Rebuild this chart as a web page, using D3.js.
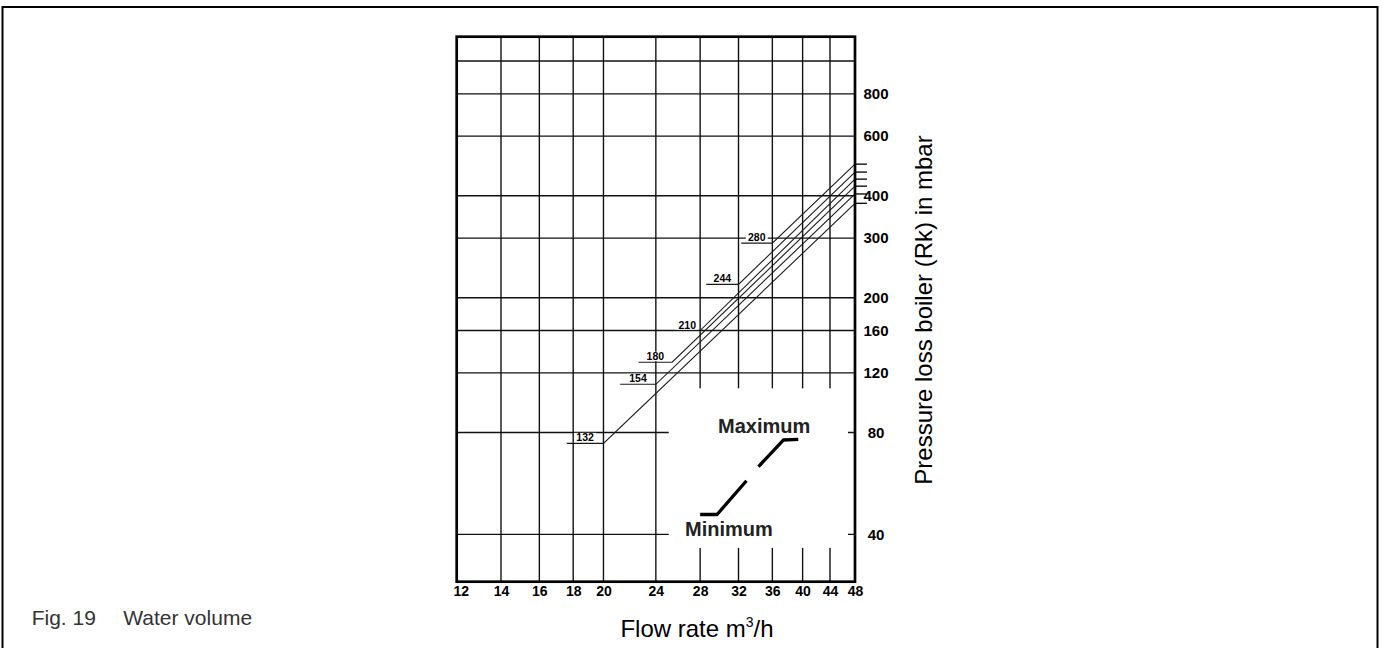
<!DOCTYPE html>
<html>
<head>
<meta charset="utf-8">
<script src="https://cdn.jsdelivr.net/npm/d3@7"></script>
<style>
body { margin: 0; background: #fff; }
text { font-family: "Liberation Sans", Arial, sans-serif; }
</style>
</head>
<body>
<div id="chart-area"></div>
<script>
let width = 1385, height = 648;

// ticks and grid
let flowTicks = [12, 14, 16, 18, 20, 24, 28, 32, 36, 40, 44, 48];
let pressureTicks = [40, 80, 120, 160, 200, 300, 400, 600, 800];
let pressureGrid = [40, 80, 120, 160, 200, 300, 400, 600, 800, 1000];

// boiler curves (label start, knee, end at 48 m3/h)
let boilerSizes = [132, 154, 180, 210, 244, 280];
let labelFlow = [17.6, 21.2, 22.6, 25.6, 28.6, 32.3];
let kneeFlow = [20, 24, 25.4, 28, 32, 36];
let kneePressure = [74.3, 111, 129, 160, 219, 290];
let endPressure = [380, 405, 427, 448, 470, 496];

// legend glyph
let minFlow = [28, 29.7, 32.9], minPressure = [45.8, 45.8, 57.6];
let maxFlow = [34.3, 37.4, 39.4], maxPressure = [63.4, 76, 76.3];

let plot = {left: 456.7, right: 855, top: 36.7, bottom: 581.7};

let x = d3.scaleLog().domain([12, 48]).range([plot.left, plot.right]);
let y = d3.scaleLog().domain([29, 1180]).range([plot.bottom, plot.top]);

let svg = d3.select("#chart-area").append("svg")
	.attr("width", width)
	.attr("height", height);

// page frame
svg.append("rect")
	.attr("x", 2.5).attr("y", 7)
	.attr("width", 1375).attr("height", 660)
	.attr("fill", "none").attr("stroke", "#000").attr("stroke-width", 2);

// grid
svg.selectAll(".vgrid")
	.data(flowTicks.slice(1, -1))
	.enter()
	.append("line")
	.attr("x1", d => x(d)).attr("x2", d => x(d))
	.attr("y1", plot.top).attr("y2", plot.bottom)
	.attr("stroke", "#111").attr("stroke-width", 1.4);

svg.selectAll(".hgrid")
	.data(pressureGrid)
	.enter()
	.append("line")
	.attr("x1", plot.left).attr("x2", plot.right)
	.attr("y1", d => y(d)).attr("y2", d => y(d))
	.attr("stroke", "#111").attr("stroke-width", 1.4);

// blank area for the legend
svg.append("rect")
	.attr("x", x(25.1))
	.attr("y", y(108))
	.attr("width", x(48) - 7 - x(25.1))
	.attr("height", y(36.5) - y(108))
	.attr("fill", "#fff");

let curves = boilerSizes.map((s, i) => ({
	size: s,
	pts: [[labelFlow[i], kneePressure[i]], [kneeFlow[i], kneePressure[i]], [48, endPressure[i]]]
}));

// white boxes behind the curve labels
svg.selectAll(".lblbg")
	.data(curves)
	.enter()
	.append("rect")
	.attr("x", d => (x(d.pts[0][0]) + x(d.pts[1][0])) / 2 - 11)
	.attr("y", d => y(d.pts[0][1]) - 10.5)
	.attr("width", 22)
	.attr("height", 9.5)
	.attr("fill", "#fff");

let line = d3.line()
	.x(d => x(d[0]))
	.y(d => y(d[1]));

svg.selectAll(".curve")
	.data(curves)
	.enter()
	.append("path")
	.attr("d", d => line(d.pts))
	.attr("fill", "none")
	.attr("stroke", "#1a1a1a")
	.attr("stroke-width", 1.1);

// end ticks right of the frame
svg.selectAll(".endtick")
	.data(curves)
	.enter()
	.append("line")
	.attr("x1", x(48)).attr("x2", x(48) + 12)
	.attr("y1", d => y(d.pts[2][1])).attr("y2", d => y(d.pts[2][1]))
	.attr("stroke", "#111").attr("stroke-width", 1.4);

svg.selectAll(".lbl")
	.data(curves)
	.enter()
	.append("text")
	.attr("x", d => (x(d.pts[0][0]) + x(d.pts[1][0])) / 2)
	.attr("y", d => y(d.pts[0][1]) - 2)
	.attr("text-anchor", "middle")
	.attr("font-size", 10.5)
	.attr("font-weight", "bold")
	.text(d => d.size);

// plot frame
svg.append("rect")
	.attr("x", plot.left).attr("y", plot.top)
	.attr("width", plot.right - plot.left)
	.attr("height", plot.bottom - plot.top)
	.attr("fill", "none").attr("stroke", "#000").attr("stroke-width", 2.7);

// legend glyph
let glyph = [
	minFlow.map((f, i) => [f, minPressure[i]]),
	maxFlow.map((f, i) => [f, maxPressure[i]])
];
svg.selectAll(".glyph")
	.data(glyph)
	.enter()
	.append("path")
	.attr("d", d => line(d))
	.attr("fill", "none")
	.attr("stroke", "#000")
	.attr("stroke-width", 3.3)
	.attr("stroke-linejoin", "round");

svg.append("text")
	.attr("x", 718).attr("y", 433)
	.attr("font-size", 20).attr("font-weight", "bold")
	.attr("fill", "#222")
	.text("Maximum");
svg.append("text")
	.attr("x", 685).attr("y", 536)
	.attr("font-size", 20).attr("font-weight", "bold")
	.attr("fill", "#222")
	.text("Minimum");

// axes
let xAxis = d3.axisBottom(x)
	.tickValues(flowTicks)
	.tickFormat(d3.format("d"))
	.tickSize(0)
	.tickPadding(4);
svg.append("g")
	.attr("transform", "translate(0," + plot.bottom + ")")
	.call(xAxis)
	.attr("font-size", 14)
	.attr("font-weight", "bold")
	.attr("font-family", "'Liberation Sans', Arial, sans-serif")
	.call(g => g.select(".domain").remove())
	.call(g => g.select(".tick text").attr("dx", 4));

let yAxis = d3.axisRight(y)
	.tickValues(pressureTicks)
	.tickFormat(d3.format("d"))
	.tickSize(0)
	.tickPadding(21);
svg.append("g")
	.attr("transform", "translate(" + plot.right + ",0)")
	.call(yAxis)
	.attr("font-size", 15)
	.attr("font-weight", "bold")
	.attr("font-family", "'Liberation Sans', Arial, sans-serif")
	.attr("text-anchor", "middle")
	.call(g => g.select(".domain").remove());

// titles
let xt = svg.append("text")
	.attr("x", 697).attr("y", 637)
	.attr("text-anchor", "middle")
	.attr("font-size", 24);
xt.append("tspan").text("Flow rate m");
xt.append("tspan").attr("dy", -10).attr("font-size", 14).text("3");
xt.append("tspan").attr("dy", 10).text("/h");

svg.append("text")
	.attr("transform", "translate(932,310) rotate(-90)")
	.attr("text-anchor", "middle")
	.attr("font-size", 24)
	.text("Pressure loss boiler (Rk) in mbar");

svg.append("text")
	.attr("x", 31.7).attr("y", 625)
	.attr("font-size", 21)
	.attr("fill", "#333")
	.text("Fig. 19");
svg.append("text")
	.attr("x", 123.3).attr("y", 625)
	.attr("font-size", 21)
	.attr("fill", "#333")
	.text("Water volume");
</script>
</body>
</html>
